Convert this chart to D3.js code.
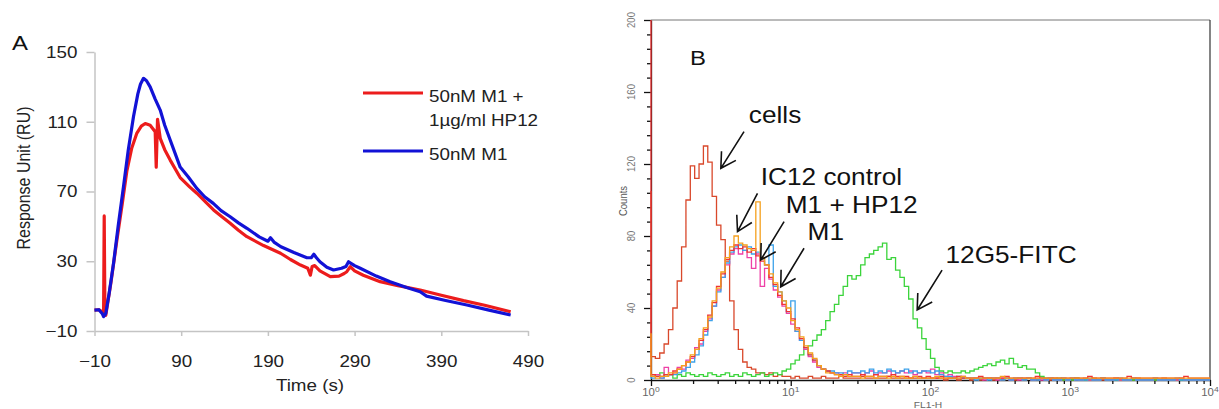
<!DOCTYPE html>
<html>
<head>
<meta charset="utf-8">
<script src="https://cdn.jsdelivr.net/npm/d3@7"></script>
<style>
  body { margin: 0; background: #fff; }
  svg { display: block; font-family: "Liberation Sans", Arial, sans-serif; }
  /* the source picture is stretched sideways a little, so text is too */
  .sx-mid { transform-box: fill-box; transform-origin: 50% 50%; transform: scaleX(1.14); }
  .sx-end { transform-box: fill-box; transform-origin: 100% 50%; transform: scaleX(1.14); }
  .sx-start { transform-box: fill-box; transform-origin: 0% 50%; transform: scaleX(1.14); }
  .sy-mid { transform-box: fill-box; transform-origin: 50% 50%; transform: scaleY(1.14); }
</style>
</head>
<body>
<div id="chart"></div>
<script>
// Panel A: response (RU) over time (s)
const timeRed = [-10, -5, -1, 0.5, 1.2, 2, 3, 9, 15.8, 22, 27.4, 33, 38.9, 44, 48.5, 54.2, 60, 61.2, 62.7, 65.8, 71, 77.3, 88.8, 100, 108, 118, 127.3, 137, 146.5, 156, 165.8, 185, 204.5, 216, 227.6, 236, 239, 241, 244, 250, 262, 272, 278, 281, 285, 290, 300, 319.5, 340, 365.6, 390, 415.6, 440, 470]
const valueRed = [2, 2.2, 1, 1, 56, 0, -1, 18, 42, 63, 82, 95, 103.5, 107.5, 109, 108, 104.3, 84, 111.4, 100.5, 94, 88, 78, 72.5, 69, 64, 59.4, 55.5, 51.8, 47.8, 44.1, 39, 34.6, 31, 27.8, 26, 22, 27, 27.5, 24.5, 21.2, 21.5, 23, 24, 26.9, 24.5, 22, 18.3, 16, 13.5, 10.5, 7.4, 4.8, 1]

const timeBlue = [-10, -5, -1, 0.5, 3, 7, 12, 17.5, 23.5, 29, 35, 40, 43, 46.5, 50, 54.2, 60, 65.8, 71, 77.3, 88.8, 98, 108, 117, 127, 136, 146.5, 156, 165.8, 180, 190, 193, 197, 205, 220, 235, 240, 243, 246, 250, 258, 265.7, 275, 280, 283, 290, 296.5, 315, 331, 350, 365.6, 373, 395, 419.5, 445, 470]
const valueBlue = [2, 2.2, 0, -1.8, 0, 12, 29, 51, 73, 94, 113, 126, 131.5, 134.9, 133.5, 130, 123, 116.7, 108, 99.5, 84, 78.5, 71.8, 67, 63.2, 59, 55.5, 52, 48.9, 44, 41.5, 43.5, 41, 38.3, 35, 32, 32, 34, 32, 29.7, 26.5, 25, 26, 27, 29.7, 27.5, 26, 21.5, 18.3, 15, 12.5, 10, 7.5, 4.9, 2, -0.8]

const timeTicks = [-10, 90, 190, 290, 390, 490]
const responseTicks = [-10, 30, 70, 110, 150]
const legendLabels = [["50nM M1 +", "1µg/ml HP12"], ["50nM M1"]]

// Panel B: flow cytometry histograms, 32 channels per decade from 10^0 to 10^4
const cellsCounts = [
  105, 13, 12, 15, 20, 28, 40, 55, 74, 100, 119, 112, 120, 130, 121, 102, 86, 78, 66, 44, 28, 17, 10, 7, 6, 4, 4, 3, 4, 2, 3, 2,
  2, 1, 2, 1, 1, 2, 1, 1, 2, 1, 1, 1, 2, 1, 1, 1, 1, 2, 1, 1, 1, 1, 1, 2, 1, 1, 1, 1, 1, 1, 1, 1,
  1, 1, 1, 1, 0, 1, 1, 0, 1, 1, 0, 1, 0, 1, 1, 0, 1, 0, 1, 0, 0, 1, 0, 1, 0, 0, 1, 0, 0, 1, 0, 0,
  0, 0, 1, 0, 0, 0, 1, 0, 0, 0, 0, 1, 0, 0, 0, 0, 1, 0, 0, 0, 0, 0, 1, 0, 0, 0, 0, 0, 0, 0, 0, 0, 0]
const redCounts = [
  200, 3, 2, 2, 3, 3, 5, 6, 8, 10, 13, 17, 22, 28, 36, 43, 52, 59, 67, 72, 75, 73, 74, 71, 73, 69, 66, 64, 57, 53, 47, 42,
  38, 34, 29, 23, 18, 14, 11, 8, 6, 5, 4, 3, 3, 2, 3, 2, 2, 3, 2, 2, 3, 2, 2, 2, 3, 2, 2, 2, 1, 2, 2, 1,
  2, 1, 1, 2, 1, 1, 1, 2, 1, 1, 1, 1, 2, 1, 1, 1, 1, 1, 2, 1, 1, 1, 1, 1, 1, 2, 1, 1, 1, 1, 1, 1,
  1, 1, 1, 1, 1, 2, 1, 1, 1, 1, 1, 1, 1, 1, 2, 1, 1, 1, 1, 1, 1, 1, 1, 1, 1, 1, 1, 2, 1, 1, 1, 1, 1]
const ic12Counts = [
  26, 2, 1, 2, 2, 4, 4, 6, 8, 10, 14, 17, 23, 29, 35, 44, 51, 60, 68, 74, 80, 76, 75, 73, 72, 99, 68, 64, 59, 54, 49, 44,
  40, 33, 28, 24, 19, 15, 12, 8, 6, 4, 4, 3, 2, 3, 2, 2, 2, 1, 2, 2, 1, 2, 2, 1, 2, 1, 2, 1, 1, 2, 1, 1,
  1, 1, 2, 1, 1, 1, 1, 1, 2, 1, 1, 1, 1, 1, 1, 1, 1, 2, 1, 1, 1, 1, 1, 1, 1, 1, 1, 1, 1, 1, 1, 1,
  1, 1, 1, 1, 1, 1, 1, 1, 1, 1, 1, 1, 1, 1, 1, 1, 1, 1, 1, 1, 1, 1, 1, 1, 1, 1, 1, 1, 1, 1, 1, 1, 1]
const m1Hp12Counts = [
  3, 2, 3, 1, 7, 3, 4, 7, 6, 11, 12, 18, 20, 27, 34, 41, 50, 57, 64, 70, 73, 70, 72, 68, 62, 70, 52, 62, 56, 50, 46, 41,
  37, 31, 27, 22, 17, 13, 10, 7, 6, 5, 4, 4, 3, 4, 3, 4, 4, 3, 4, 5, 3, 4, 4, 5, 3, 4, 5, 4, 5, 3, 4, 5,
  4, 6, 3, 4, 2, 3, 2, 1, 2, 1, 1, 1, 1, 0, 1, 1, 0, 1, 1, 0, 1, 0, 1, 1, 0, 1, 0, 0, 1, 0, 0, 1,
  0, 1, 0, 0, 1, 0, 0, 0, 1, 0, 0, 1, 0, 0, 0, 1, 0, 0, 0, 0, 1, 0, 0, 0, 0, 0, 1, 0, 0, 0, 0, 0, 0]
const m1Counts = [
  2, 1, 2, 1, 2, 3, 3, 4, 5, 7, 10, 14, 19, 25, 33, 41, 49, 57, 65, 71, 74, 75, 72, 74, 70, 71, 68, 64, 75, 52, 49, 44,
  38, 44, 27, 22, 18, 14, 11, 8, 6, 5, 5, 4, 4, 3, 5, 4, 4, 5, 4, 6, 4, 5, 4, 6, 5, 4, 5, 6, 4, 5, 4, 5,
  5, 4, 5, 3, 2, 2, 1, 2, 1, 1, 1, 0, 1, 1, 0, 1, 1, 0, 1, 0, 1, 1, 0, 1, 0, 0, 1, 0, 1, 0, 0, 1,
  0, 1, 0, 0, 0, 1, 0, 0, 1, 0, 0, 0, 1, 0, 0, 1, 0, 0, 0, 0, 1, 0, 0, 0, 0, 1, 0, 0, 0, 0, 0, 0, 0]
const fitcCounts = [
  2, 3, 2, 4, 2, 3, 1, 3, 2, 4, 3, 2, 3, 2, 4, 3, 2, 3, 4, 2, 3, 2, 4, 3, 2, 3, 4, 2, 3, 4, 3, 5,
  6, 9, 11, 14, 17, 19, 22, 25, 28, 33, 38, 42, 47, 52, 58, 56, 58, 64, 68, 70, 72, 74, 76, 67, 68, 61, 57, 52, 45, 34, 29, 23,
  17, 12, 7, 5, 4, 5, 4, 4, 5, 4, 5, 6, 7, 8, 9, 8, 10, 11, 9, 12, 9, 7, 8, 6, 6, 4, 2, 1, 1, 0, 1, 0,
  0, 0, 1, 0, 0, 0, 0, 0, 1, 0, 0, 0, 0, 0, 0, 0, 0, 0, 0, 0, 0, 0, 0, 0, 0, 0, 0, 0, 0, 0, 0, 0, 0]
const countTicks = [0, 40, 80, 120, 160, 200]
const decades = [1, 10, 100, 1000, 10000]

const channelsPerDecade = 32
const red = "#ec1c1c"
const blue = "#1212d6"

const histograms = [
  {counts: cellsCounts, color: "#d9482b"},
  {counts: fitcCounts, color: "#3bd43b"},
  {counts: m1Hp12Counts, color: "#ee40a6"},
  {counts: m1Counts, color: "#3da2ea"},
  {counts: redCounts, color: "#f03434"},
  {counts: ic12Counts, color: "#f5a01e"}
]

const annotations = [
  {text: "cells", tx: 5.01, ty: 143, x1: 4.63, y1: 138, x2: 3.16, y2: 117.6},
  {text: "IC12 control", tx: 6.1, ty: 108.3, x1: 5.78, y1: 103.7, x2: 4.16, y2: 82.4},
  {text: "M1 + HP12", tx: 9.2, ty: 92.6, x1: 8.96, y1: 88, x2: 6.1, y2: 66.7},
  {text: "M1", tx: 13.2, ty: 77.8, x1: 12.45, y1: 73.2, x2: 8.48, y2: 51.8},
  {text: "12G5-FITC", tx: 128, ty: 65, x1: 121, y1: 61, x2: 80.3, y2: 38.9}
]

const svg = d3.select("#chart").append("svg")
  .attr("width", 1219)
  .attr("height", 409)
  .attr("viewBox", [0, 0, 1219, 409])

// ---------- panel A
const xA = d3.scaleLinear().domain([-10, 490]).range([94.5, 528])
const yA = d3.scaleLinear().domain([-10, 150]).range([331, 52])

function styleAxisA(g, cls) {
  g.attr("font-family", null).attr("font-size", null)
  g.selectAll("path, line").attr("stroke", "#c4c4c4").attr("stroke-width", 1.5)
  g.selectAll("text").attr("fill", "#222").style("font-size", "16.5px").attr("class", cls)
}

svg.append("g")
  .attr("transform", `translate(0,${yA(-10)})`)
  .call(d3.axisBottom(xA).tickValues(timeTicks).tickSize(5).tickSizeOuter(0).tickPadding(19))
  .call(styleAxisA, "sx-mid")

svg.append("g")
  .attr("transform", `translate(${xA(-10)},0)`)
  .call(d3.axisLeft(yA).tickValues(responseTicks).tickSize(8).tickSizeOuter(0).tickPadding(9))
  .call(styleAxisA, "sx-end")

const lineA = d3.line().x(d => xA(d[0])).y(d => yA(d[1]))

svg.append("path")
  .attr("d", lineA(d3.zip(timeRed, valueRed)))
  .attr("fill", "none").attr("stroke", red).attr("stroke-width", 3.2)
  .attr("stroke-linejoin", "round")

svg.append("path")
  .attr("d", lineA(d3.zip(timeBlue, valueBlue)))
  .attr("fill", "none").attr("stroke", blue).attr("stroke-width", 3.2)
  .attr("stroke-linejoin", "round")

svg.append("text").attr("class", "sx-mid")
  .attr("x", 310).attr("y", 391).attr("text-anchor", "middle")
  .style("font-size", "16.5px").attr("fill", "#222")
  .text("Time (s)")

svg.append("g").attr("transform", "translate(29,178) rotate(-90)")
  .append("text").attr("class", "sy-mid")
  .attr("text-anchor", "middle").style("font-size", "16px").attr("fill", "#222")
  .text("Response Unit (RU)")

svg.append("text").attr("class", "sx-start")
  .attr("x", 12).attr("y", 50).style("font-size", "21px").attr("fill", "#111")
  .text("A")

const legend = svg.append("g")
const legendRows = [{y: 93, color: red}, {y: 151, color: blue}]
legendRows.forEach((row, i) => {
  legend.append("line")
    .attr("x1", 363).attr("x2", 423).attr("y1", row.y).attr("y2", row.y)
    .attr("stroke", row.color).attr("stroke-width", 3)
  legendLabels[i].forEach((label, j) => {
    legend.append("text").attr("class", "sx-start")
      .attr("x", 429).attr("y", row.y + 9 + j * 24)
      .style("font-size", "16.5px").attr("fill", "#222")
      .text(label)
  })
})

// ---------- panel B
const xB = d3.scaleLog().domain([1, 1e4]).range([651, 1210])
const yB = d3.scaleLinear().domain([0, 200]).range([380, 20])

// frame
svg.append("line").attr("x1", 651).attr("x2", 1210).attr("y1", 20).attr("y2", 20)
  .attr("stroke", "#777").attr("stroke-width", 1)
svg.append("line").attr("x1", 1210).attr("x2", 1210).attr("y1", 20).attr("y2", 380)
  .attr("stroke", "#333").attr("stroke-width", 1.2)

const minorCounts = d3.range(0, 201, 8)
svg.append("g")
  .attr("transform", `translate(651,0)`)
  .call(d3.axisLeft(yB).tickValues(minorCounts).tickSize(4).tickSizeOuter(0).tickFormat(""))
  .call(g => g.selectAll(".tick line").filter(d => d % 40 === 0).attr("x2", -7))
  .call(g => g.selectAll("path, line").attr("stroke", "#111").attr("stroke-width", 1.3))

countTicks.forEach(v => {
  svg.append("g").attr("transform", `translate(635,${yB(v)}) rotate(-90)`)
    .append("text").attr("class", "sy-mid")
    .attr("text-anchor", "middle").style("font-size", "9.5px").attr("fill", "#777")
    .text(v)
})

svg.append("g").attr("transform", "translate(627,201) rotate(-90)")
  .append("text").attr("class", "sy-mid")
  .attr("text-anchor", "middle").style("font-size", "9.5px").attr("fill", "#555")
  .text("Counts")

const logTicks = decades.slice(0, -1).flatMap(d => d3.range(1, 10).map(m => m * d)).concat([1e4])
svg.append("g")
  .attr("transform", `translate(0,380)`)
  .call(d3.axisBottom(xB).tickValues(logTicks).tickSize(4).tickSizeOuter(0).tickFormat(""))
  .call(g => g.selectAll(".tick line").filter(d => decades.includes(d)).attr("y2", 6))
  .call(g => g.selectAll("path, line").attr("stroke", "#111").attr("stroke-width", 1.3))

decades.forEach((d, i) => {
  const t = svg.append("text").attr("class", "sx-mid")
    .attr("x", xB(d)).attr("y", 396).attr("text-anchor", "middle")
    .style("font-size", "10px").attr("fill", "#666")
  t.append("tspan").text("10")
  t.append("tspan").attr("dy", -4).style("font-size", "7.5px").text(i)
})

svg.append("text").attr("class", "sx-mid")
  .attr("x", 928).attr("y", 408).attr("text-anchor", "middle")
  .style("font-size", "9px").attr("fill", "#666")
  .text("FL1-H")

// histograms sit on top of the axes, as in the cytometer output
svg.append("clipPath").attr("id", "plotB")
  .append("rect").attr("x", 649).attr("y", 19).attr("width", 562).attr("height", 362)

const lineB = d3.line()
  .x((d, i) => xB(10 ** (i / channelsPerDecade)))
  .y(d => yB(d))
  .curve(d3.curveStepBefore)

svg.append("g").attr("clip-path", "url(#plotB)")
  .selectAll("path")
  .data(histograms)
  .join("path")
  .attr("d", d => lineB(d.counts))
  .attr("fill", "none")
  .attr("stroke", d => d.color)
  .attr("stroke-width", 1.3)

svg.append("text").attr("class", "sx-start")
  .attr("x", 690).attr("y", 65).style("font-size", "21px").attr("fill", "#111")
  .text("B")

function arrow(g, x1, y1, x2, y2) {
  const back = Math.atan2(y1 - y2, x1 - x2)
  const len = 17, spread = Math.PI / 6
  const a = [x2 + len * Math.cos(back - spread), y2 + len * Math.sin(back - spread)]
  const b = [x2 + len * Math.cos(back + spread), y2 + len * Math.sin(back + spread)]
  g.append("path")
    .attr("d", `M${x1},${y1}L${x2},${y2}M${a}L${x2},${y2}L${b}`)
    .attr("fill", "none").attr("stroke", "#111").attr("stroke-width", 1.6)
}

const notes = svg.append("g")
annotations.forEach(n => {
  arrow(notes, xB(n.x1), yB(n.y1), xB(n.x2), yB(n.y2))
  notes.append("text").attr("class", "sx-start")
    .attr("x", xB(n.tx)).attr("y", yB(n.ty))
    .style("font-size", "23px").attr("fill", "#111")
    .text(n.text)
})
</script>
</body>
</html>
